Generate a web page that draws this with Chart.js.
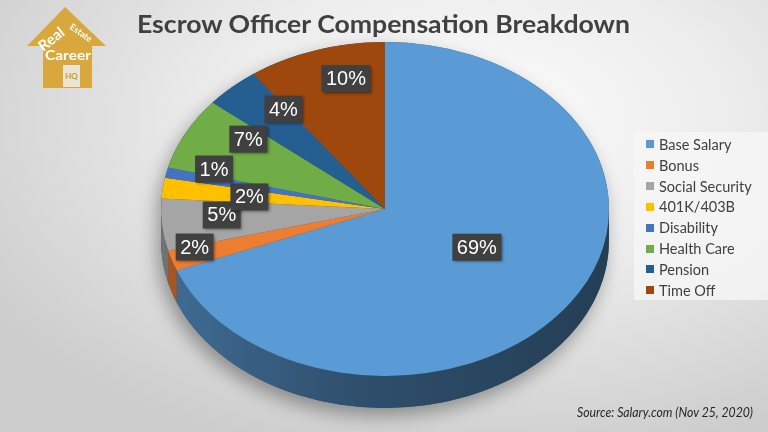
<!DOCTYPE html>
<html>
<head>
<meta charset="utf-8">
<script src="https://cdn.jsdelivr.net/npm/chart.js@4.4.0/dist/chart.umd.min.js"></script>
<style>
  html, body { margin: 0; padding: 0; }
  body {
    width: 768px; height: 432px; overflow: hidden; position: relative;
    background: radial-gradient(ellipse 75% 80% at 62% 28%, #fcfcfc 0%, #ececec 45%, #d9d9d9 78%, #cdcdcd 100%);
    font-family: Lato, 'Liberation Sans', sans-serif;
  }
  #wrap { position: absolute; left: 0; top: 0; width: 768px; height: 432px; }
  .overlay { position: absolute; left: 0; top: 0; pointer-events: none; }
  #legend {
    position: absolute; left: 634px; top: 132px; width: 134px; height: 168px;
    background: rgba(246, 246, 246, 0.8); box-sizing: border-box; padding-top: 2px;
  }
  .item { height: 20.85px; display: flex; align-items: center; font-size: 14.5px; color: #404040; white-space: nowrap; }
  .item span.sw { width: 8px; height: 8px; margin: 0 5px 0 12px; flex: none; }
</style>
</head>
<body>
<div id="wrap"><canvas id="pie"></canvas></div>

<svg class="overlay" width="768" height="432">
  <!-- logo -->
  <polygon points="65,7 106,46 92,46 92,88 43,88 43,46 27,46" fill="#D8A83C"/>
  <rect x="63" y="65" width="17" height="22" fill="#e9e4d6"/>
  <text x="71.5" y="79" text-anchor="middle" font-family="Lato" font-weight="bold" font-size="8" fill="#C99A2E">HQ</text>
  <text x="52" y="44" text-anchor="middle" font-family="Lato" font-weight="bold" font-size="15" fill="#fff" transform="rotate(-38 52 40)">Real</text>
  <text x="81" y="36" text-anchor="middle" font-family="Lato" font-weight="bold" font-size="9" fill="#fff" transform="rotate(35 81 33)">Estate</text>
  <text x="68" y="60" text-anchor="middle" font-family="Lato" font-weight="bold" font-size="14" fill="#fff" textLength="46" lengthAdjust="spacingAndGlyphs">Career</text>
  <!-- title and source -->
  <text x="383.5" y="33" text-anchor="middle" font-family="Lato" font-weight="bold" font-size="24" fill="#404040" textLength="493" lengthAdjust="spacingAndGlyphs">Escrow Officer Compensation Breakdown</text>
  <text x="753" y="417" text-anchor="end" font-family="Lato" font-style="italic" font-size="13" fill="#262626" textLength="176" lengthAdjust="spacingAndGlyphs">Source: Salary.com (Nov 25, 2020)</text>
</svg>

<div id="legend"></div>

<script>
const categories = ['Base Salary', 'Bonus', 'Social Security', '401K/403B', 'Disability', 'Health Care', 'Pension', 'Time Off'];
const shares = [69, 2, 5, 2, 1, 7, 4, 10];

// styling, kept apart from the data
const sliceColors = ['#5B9BD5', '#ED7D31', '#A5A5A5', '#FFC000', '#4472C4', '#70AD47', '#255E91', '#9E480E'];
// [radius fraction, angle nudge in degrees] for each value box
const labelPlace = [[0.47, -5], [0.88, 3], [0.73, 2.6], [0.61, -0.4], [0.80, 4.8], [0.74, 7.4], [0.75, 6], [0.80, 5.4]];
const stretchX = 1.341;   // flattens the circle into the tilted ellipse
const depth = 32;

const shade = (hex, k) => {
  const n = parseInt(hex.slice(1), 16);
  const r = Math.round(((n >> 16) & 255) * k);
  const g = Math.round(((n >> 8) & 255) * k);
  const b = Math.round((n & 255) * k);
  return `rgb(${r},${g},${b})`;
};

const legendEl = document.getElementById('legend');
categories.forEach((name, i) => {
  const row = document.createElement('div');
  row.className = 'item';
  row.innerHTML = `<span class="sw" style="background:${sliceColors[i]}"></span>${name}`;
  legendEl.appendChild(row);
});

const pie3d = {
  id: 'pie3d',
  beforeDatasetsDraw(chart) {
    const ctx = chart.ctx;
    const arcs = chart.getDatasetMeta(0).data;
    const { x, y, outerRadius: r } = arcs[0].getProps(['x', 'y', 'outerRadius'], true);
    ctx.save();
    ctx.translate(x, y);
    ctx.scale(stretchX, 1);
    ctx.translate(-x, -y);

    // silhouette of the side, carries the drop shadow
    ctx.save();
    ctx.shadowColor = 'rgba(0,0,0,0.35)';
    ctx.shadowBlur = 18;
    ctx.shadowOffsetX = -4;
    ctx.shadowOffsetY = 8;
    ctx.beginPath();
    ctx.arc(x, y + depth, r, 0, Math.PI);
    ctx.arc(x, y, r, Math.PI, Math.PI * 2);
    ctx.closePath();
    ctx.fillStyle = shade(sliceColors[0], 0.5);
    ctx.fill();
    ctx.restore();

    // front walls, one per slice
    arcs.forEach((arc, i) => {
      const { startAngle, endAngle } = arc.getProps(['startAngle', 'endAngle'], true);
      const a = Math.max(startAngle, 0);
      const b = Math.min(endAngle, Math.PI);
      if (b <= a) return;
      const grad = ctx.createLinearGradient(x - r, 0, x + r, 0);
      grad.addColorStop(0, shade(sliceColors[i], 0.7));
      grad.addColorStop(0.45, shade(sliceColors[i], 0.5));
      grad.addColorStop(1, shade(sliceColors[i], 0.4));
      ctx.beginPath();
      ctx.arc(x, y, r, a, b);
      ctx.lineTo(x + r * Math.cos(b), y + depth + r * Math.sin(b));
      ctx.arc(x, y + depth, r, b, a, true);
      ctx.closePath();
      ctx.fillStyle = grad;
      ctx.fill();
    });
  },
  afterDatasetsDraw(chart) {
    const ctx = chart.ctx;
    ctx.restore();
    const arcs = chart.getDatasetMeta(0).data;
    ctx.save();
    ctx.font = '20px "Liberation Sans", Arial, sans-serif';
    ctx.textAlign = 'center';
    ctx.textBaseline = 'middle';
    arcs.forEach((arc, i) => {
      const { x, y, startAngle, endAngle, outerRadius: r } =
        arc.getProps(['x', 'y', 'startAngle', 'endAngle', 'outerRadius'], true);
      const [f, nudge] = labelPlace[i];
      const mid = (startAngle + endAngle) / 2 + nudge * Math.PI / 180;
      const px = x + stretchX * r * f * Math.cos(mid);
      const py = y + r * f * Math.sin(mid);
      const text = `${shares[i]}%`;
      const w = ctx.measureText(text).width + 9;
      const h = 27;
      ctx.save();
      ctx.shadowColor = 'rgba(0,0,0,0.45)';
      ctx.shadowBlur = 3;
      ctx.shadowOffsetX = 1.5;
      ctx.shadowOffsetY = 1.5;
      ctx.fillStyle = '#404040';
      ctx.fillRect(px - w / 2, py - h / 2, w, h);
      ctx.restore();
      ctx.fillStyle = '#ffffff';
      ctx.fillText(text, px, py + 1);
    });
    ctx.restore();
  },
};

new Chart(document.getElementById('pie'), {
  type: 'pie',
  data: {
    labels: categories,
    datasets: [{
      data: shares,
      backgroundColor: sliceColors,
      borderWidth: 0,
      hoverOffset: 0,
      offset: 0,
      clip: false,
    }],
  },
  options: {
    responsive: true,
    maintainAspectRatio: false,
    animation: false,
    events: [],
    layout: { padding: { top: 42, bottom: 56, left: 218, right: 216 } },
    plugins: {
      legend: { display: false },
      tooltip: { enabled: false },
      title: { display: false },
    },
  },
  plugins: [pie3d],
});
</script>
</body>
</html>
